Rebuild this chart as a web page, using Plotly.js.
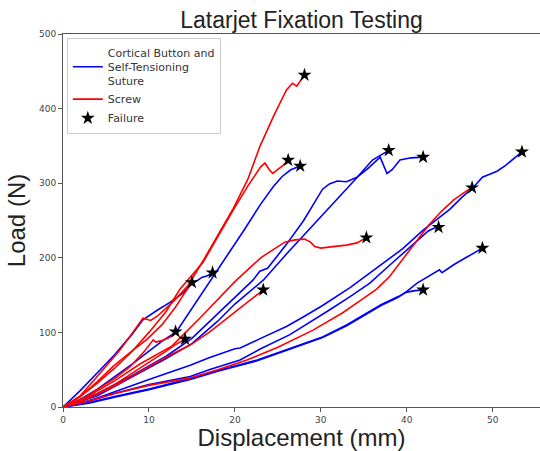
<!DOCTYPE html>
<html>
<head>
<meta charset="utf-8">
<script src="https://cdn.plot.ly/plotly-3.0.1.min.js"></script>
<style>html,body{margin:0;padding:0;background:#fff;}#chart{width:540px;height:451px;}</style>
</head>
<body>
<div id="chart"></div>
<script>
// Cortical button and self-tensioning suture specimens (displacement mm, load N)
const button1X = [0, 2, 4, 6, 8, 10, 11.5, 13.2, 15, 17, 19, 21, 23, 24.5, 25.5, 26.5, 27.6];
const button1Y = [0, 10, 24, 40, 57, 75, 88, 101, 132, 166, 200, 236, 272, 296, 309, 318, 323];
const button2X = [0, 2, 4, 6, 8, 9.3, 11, 12.4, 14, 15, 15.7, 16.2, 16.8, 17.4];
const button2Y = [0, 22, 46, 70, 97, 117, 130, 140, 153, 166, 170, 174, 176, 180];
const button3X = [0, 4, 8, 12, 15, 18, 20, 23.3, 26, 29, 32, 34, 36, 37, 37.9];
const button3Y = [0, 15, 40, 65, 85, 115, 138, 170, 205, 242, 280, 305, 331, 338, 344];
const button4X = [0, 4, 8, 12, 15, 18, 20, 22.1, 22.9, 23.8, 26, 28, 30.2, 31, 31.9, 33, 34.2, 35.5, 36.9, 37.4, 37.7, 38.3, 39.2, 40.5, 41.2, 41.9];
const button4Y = [0, 18, 42, 68, 92, 125, 147, 170, 182, 186, 218, 250, 292, 299, 303, 302, 308, 320, 335, 322, 313, 318, 331, 334, 335, 335];
const button5X = [0, 2, 4, 7, 10, 14.8, 17, 20, 20.6, 23, 26, 28, 30.2, 33.4, 35.3, 37.5, 39.5, 41.9, 43.5, 45, 46.5, 47.7, 48.8, 50.5, 51.5, 52.8, 53.4];
const button5Y = [0, 5, 12, 25, 37, 56, 66, 78, 79, 92, 108, 121, 136, 160, 176, 195, 212, 237, 252, 265, 282, 294, 308, 316, 324, 336, 342];
const button6X = [0, 3, 6, 10, 14.8, 17, 20.6, 23, 26.4, 29, 31, 33.4, 35.7, 38, 40, 41.5, 42.5, 43.2, 43.7];
const button6Y = [0, 8, 18, 30, 41, 50, 63, 78, 97, 115, 130, 148, 166, 190, 210, 226, 236, 240, 241];
const button7X = [0, 3, 6, 10, 14.8, 18, 22.6, 26, 30.2, 33, 35, 37, 39, 40, 41, 41.5, 41.9];
const button7Y = [0, 6, 14, 24, 38, 49, 63, 77, 94, 110, 124, 137, 148, 154, 156, 157, 157];
const button8X = [0, 3, 6, 10, 14.8, 18, 22.6, 26, 30.2, 33, 35, 37, 39, 40, 41.2, 42.5, 43.8, 44.1, 45.5, 47, 48.8];
const button8Y = [0, 5, 13, 23, 37, 48, 62, 76, 93, 109, 123, 136, 147, 155, 166, 175, 184, 180, 191, 201, 213];

// Screw specimens (displacement mm, load N)
const screw1X = [0, 2, 3.9, 6.6, 8, 9.3, 10.2, 11, 12.8, 14.5, 16.3, 18, 19.8, 21.5, 22.9, 24.5, 26, 26.7, 27.2, 28.1];
const screw1Y = [0, 15, 40, 76, 98, 119, 116, 122, 141, 162, 196, 230, 266, 305, 349, 390, 425, 434, 430, 445];
const screw2X = [0, 2, 4, 6, 8, 10, 12, 13.6, 16.3, 18, 19.8, 21.5, 23, 23.5, 24, 24.4, 25, 25.6, 26.2];
const screw2Y = [0, 14, 32, 52, 74, 100, 128, 158, 194, 228, 264, 296, 322, 327, 318, 313, 318, 324, 331];
const screw3X = [0, 2, 4, 5.8, 8, 9.7, 11.5, 13.1, 14, 15];
const screw3Y = [0, 14, 34, 54, 75, 90, 110, 134, 150, 167];
const screw4X = [0, 2, 3.9, 6, 7.8, 9.5, 10.5, 10.8, 11.5, 12.2, 12.8, 13.1];
const screw4Y = [0, 9, 23, 38, 54, 75, 90, 87, 89, 92, 96, 101];
const screw5X = [0, 3, 6, 9, 12, 13, 14.2];
const screw5Y = [0, 12, 30, 52, 75, 83, 91];
const screw6X = [0, 3, 6, 9, 12.7, 16, 20, 23, 25.8, 27, 28.1, 28.8, 29.3, 30, 31.4, 33, 34.2, 35.3];
const screw6Y = [0, 15, 35, 58, 82, 120, 168, 200, 221, 224, 225, 221, 215, 213, 215, 217, 220, 227];
const screw7X = [0, 3, 6, 9, 12, 14.8, 17, 19, 21, 22.9, 23.3];
const screw7Y = [0, 12, 28, 48, 67, 83, 100, 118, 136, 154, 157];
const screw8X = [0, 3, 6, 10, 14.8, 18, 21.4, 25, 29.1, 32.5, 34.5, 36.5, 38, 39.5, 41, 42.5, 44, 45.5, 47, 47.6];
const screw8Y = [0, 8, 18, 29, 39, 50, 63, 80, 103, 126, 142, 158, 175, 198, 220, 243, 262, 278, 290, 294];

const buttonName = 'Cortical Button and<br>Self-Tensioning<br>Suture';
const screwName = 'Screw';
const failureName = 'Failure';
const xTicks = [0, 10, 20, 30, 40, 50];
const yTicks = [0, 100, 200, 300, 400, 500];

const buttons = [[button1X, button1Y], [button2X, button2Y], [button3X, button3Y], [button4X, button4Y],
                 [button5X, button5Y], [button6X, button6Y], [button7X, button7Y], [button8X, button8Y]];
const screws = [[screw1X, screw1Y], [screw2X, screw2Y], [screw3X, screw3Y], [screw4X, screw4Y],
                [screw5X, screw5Y], [screw6X, screw6Y], [screw7X, screw7Y], [screw8X, screw8Y]];

const traces = [];
buttons.forEach(function (s, i) {
  traces.push({x: s[0], y: s[1], type: 'scatter', mode: 'lines', name: buttonName,
    legendgroup: 'b', showlegend: i === 0, line: {color: '#0000ff', width: 1.6}, hoverinfo: 'skip'});
});
screws.forEach(function (s, i) {
  traces.push({x: s[0], y: s[1], type: 'scatter', mode: 'lines', name: screwName,
    legendgroup: 's', showlegend: i === 0, line: {color: '#ff0000', width: 1.6}, hoverinfo: 'skip'});
});
const all = buttons.concat(screws);
traces.push({
  x: all.map(function (s) { return s[0][s[0].length - 1]; }),
  y: all.map(function (s) { return s[1][s[1].length - 1]; }),
  type: 'scatter', mode: 'markers', name: failureName,
  marker: {symbol: 'star', size: 10.5, color: '#000000', line: {width: 0}}
});

const layout = {
  width: 540, height: 451,
  margin: {l: 63, r: 0, t: 34, b: 44, pad: 0},
  paper_bgcolor: '#ffffff', plot_bgcolor: '#ffffff',
  showlegend: true,
  title: {text: 'Latarjet Fixation Testing', x: 0.5, xref: 'paper', xanchor: 'center',
    y: 0.955, yref: 'container', yanchor: 'middle',
    font: {family: 'Liberation Sans, Arial, sans-serif', size: 23, color: '#222'}},
  xaxis: {range: [0, 55.5], tickvals: xTicks, ticktext: xTicks.map(String),
    showgrid: false, zeroline: false, showline: true, mirror: true, linecolor: '#555', linewidth: 1,
    ticks: 'outside', ticklen: 4, tickcolor: '#555',
    tickfont: {family: 'DejaVu Sans, sans-serif', size: 9, color: '#444'},
    title: {text: 'Displacement (mm)', standoff: 3,
      font: {family: 'Liberation Sans, Arial, sans-serif', size: 24, color: '#222'}}},
  yaxis: {range: [0, 500], tickvals: yTicks, ticktext: yTicks.map(String),
    showgrid: false, zeroline: false, showline: true, mirror: true, linecolor: '#555', linewidth: 1,
    ticks: 'outside', ticklen: 4, tickcolor: '#555',
    tickfont: {family: 'DejaVu Sans, sans-serif', size: 9, color: '#444'},
    title: {text: 'Load (N)', standoff: 6,
      font: {family: 'Liberation Sans, Arial, sans-serif', size: 24, color: '#222'}}},
  legend: {x: 0.008, y: 0.99, xanchor: 'left', yanchor: 'top',
    bgcolor: '#ffffff', bordercolor: '#cccccc', borderwidth: 1,
    font: {family: 'DejaVu Sans, sans-serif', size: 11, color: '#333'},
    tracegroupgap: 0, itemwidth: 30, valign: 'middle'}
};

Plotly.newPlot('chart', traces, layout, {displayModeBar: false, staticPlot: true});
</script>
</body>
</html>
